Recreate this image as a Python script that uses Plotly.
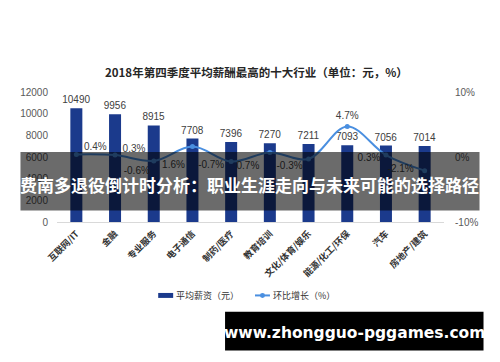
import plotly.graph_objects as go

categories = ["互联网/IT", "金融", "专业服务", "电子通信", "制药/医疗",
              "教育培训", "文化/体育/娱乐", "能源/化工/环保", "汽车", "房地产/建筑"]
salary = [10490, 9956, 8915, 7708, 7396, 7270, 7211, 7093, 7056, 7014]
growth = [0.4, 0.3, -0.6, 1.6, -0.7, 0.7, -0.3, 4.7, 0.3, -2.1]
left_ticks = [0, 2000, 4000, 6000, 8000, 10000, 12000]
right_ticks = [-10, 0, 10]

W, H = 500, 362
L, R, T, B = 56.6, 444.4, 91.5, 222.5
PW, PH = R - L, B - T
CAT_PX = PW / len(categories)
PCT_PX = PH / 20.0

def px(x):
    return (x - L) / PW

def py(y):
    return (B - y) / PH

# label offsets (pixels) for growth labels relative to points
lab_dx = [19, 19, -17, -19, -20, -22, -19, 0, -17, -24]
lab_dy = [-7, -6, 11, 19, 4, 14, 8, -10, 3, -1]

FONT = "Liberation Sans, Arial, Noto Sans CJK SC, sans-serif"
CJK = "Noto Sans CJK SC, sans-serif"
BAR_C = "#1b3a8c"
LINE_C = "#4a8fe0"
idx = list(range(len(categories)))

fig = go.Figure()
fig.add_trace(go.Bar(
    x=idx, y=salary, width=0.31, marker_color=BAR_C, marker_line_width=0,
    text=[str(v) for v in salary], textposition="outside", constraintext="none",
    cliponaxis=False,
    textfont=dict(family=FONT, size=10, color="#404040"), showlegend=False,
))
fig.add_trace(go.Scatter(
    x=idx, y=growth, yaxis="y2", mode="lines+markers",
    line=dict(color=LINE_C, width=2, shape="spline", smoothing=1.0),
    marker=dict(color=LINE_C, size=5), showlegend=False,
))
fig.add_trace(go.Scatter(
    x=[i + dx / CAT_PX for i, dx in zip(idx, lab_dx)],
    y=[g - dy / PCT_PX for g, dy in zip(growth, lab_dy)],
    yaxis="y2", mode="text", text=[f"{g:.1f}%" for g in growth],
    textposition="middle center", cliponaxis=False,
    textfont=dict(family=FONT, size=10, color="#404040"), showlegend=False,
))

shapes = [
    # overlay banner
    dict(type="rect", xref="paper", yref="paper", x0=px(20), x1=px(480), y0=py(211), y1=py(152),
         fillcolor="rgba(0,0,0,0.58)", line_width=0, layer="above"),
    # watermark box
    dict(type="rect", xref="paper", yref="paper", x0=px(225), x1=px(484), y0=py(352), y1=py(313),
         fillcolor="#000000", line_width=0, layer="above"),
    # legend symbols
    dict(type="rect", xref="paper", yref="paper", x0=px(158), x1=px(173), y0=py(299), y1=py(294),
         fillcolor=BAR_C, line_width=0),
    dict(type="line", xref="paper", yref="paper", x0=px(255), x1=px(270), y0=py(296.5), y1=py(296.5),
         line=dict(color=LINE_C, width=2)),
    dict(type="circle", xref="paper", yref="paper", x0=px(260), x1=px(265), y0=py(299), y1=py(294),
         fillcolor=LINE_C, line_width=0),
]

annotations = [
    dict(text="<b>2018年第四季度平均薪酬最高的十大行业（单位：元，%）</b>", xref="paper", yref="paper",
         x=px(257), y=py(71), xanchor="center", yanchor="middle", showarrow=False,
         font=dict(family=CJK, size=11.5, color="#262626")),
    dict(text="<b>费南多退役倒计时分析：职业生涯走向与未来可能的选择路径</b>", xref="paper", yref="paper",
         x=px(249.5), y=py(185), xanchor="center", yanchor="middle", showarrow=False,
         font=dict(family=CJK, size=17, color="#ffffff")),
    dict(text="<b>www.zhongguo-pggames.com</b>", xref="paper", yref="paper",
         x=px(354.5), y=py(334), xanchor="center", yanchor="middle", showarrow=False,
         font=dict(family="DejaVu Sans, sans-serif", size=15.5, color="#ffffff")),
    dict(text="平均薪资（元）", xref="paper", yref="paper", x=px(174), y=py(296.5),
         xanchor="left", yanchor="middle", showarrow=False,
         font=dict(family=CJK, size=9, color="#333333")),
    dict(text="环比增长（%）", xref="paper", yref="paper", x=px(271), y=py(296.5),
         xanchor="left", yanchor="middle", showarrow=False,
         font=dict(family=CJK, size=9, color="#333333")),
]

fig.update_layout(
    width=W, height=H,
    margin=dict(l=L, r=W - R, t=T, b=H - B, pad=0),
    paper_bgcolor="white", plot_bgcolor="white",
    showlegend=False,
    xaxis=dict(range=[-0.5, len(categories) - 0.5], tickvals=idx,
               ticktext=[f"<b>{c}</b>" for c in categories], tickangle=-45,
               tickfont=dict(family=CJK, size=9, color="#333333"),
               showgrid=False, zeroline=False, showline=True, linecolor="#d9d9d9",
               linewidth=1, ticks="", ticklabelstandoff=2),
    yaxis=dict(range=[0, 12000], tickvals=left_ticks, ticktext=[str(t) for t in left_ticks],
               showgrid=False, zeroline=False,
               showline=False, ticks="", tickfont=dict(family=FONT, size=10, color="#595959"),
               ticklabelstandoff=8),
    yaxis2=dict(range=[-10, 10], tickvals=right_ticks, ticktext=[f"{t}%" for t in right_ticks],
                overlaying="y", side="right", showgrid=False, zeroline=False, showline=False,
                ticks="", tickfont=dict(family=FONT, size=10, color="#595959"),
                ticklabelstandoff=10),
    shapes=shapes, annotations=annotations,
)

fig.write_html("out.html")
